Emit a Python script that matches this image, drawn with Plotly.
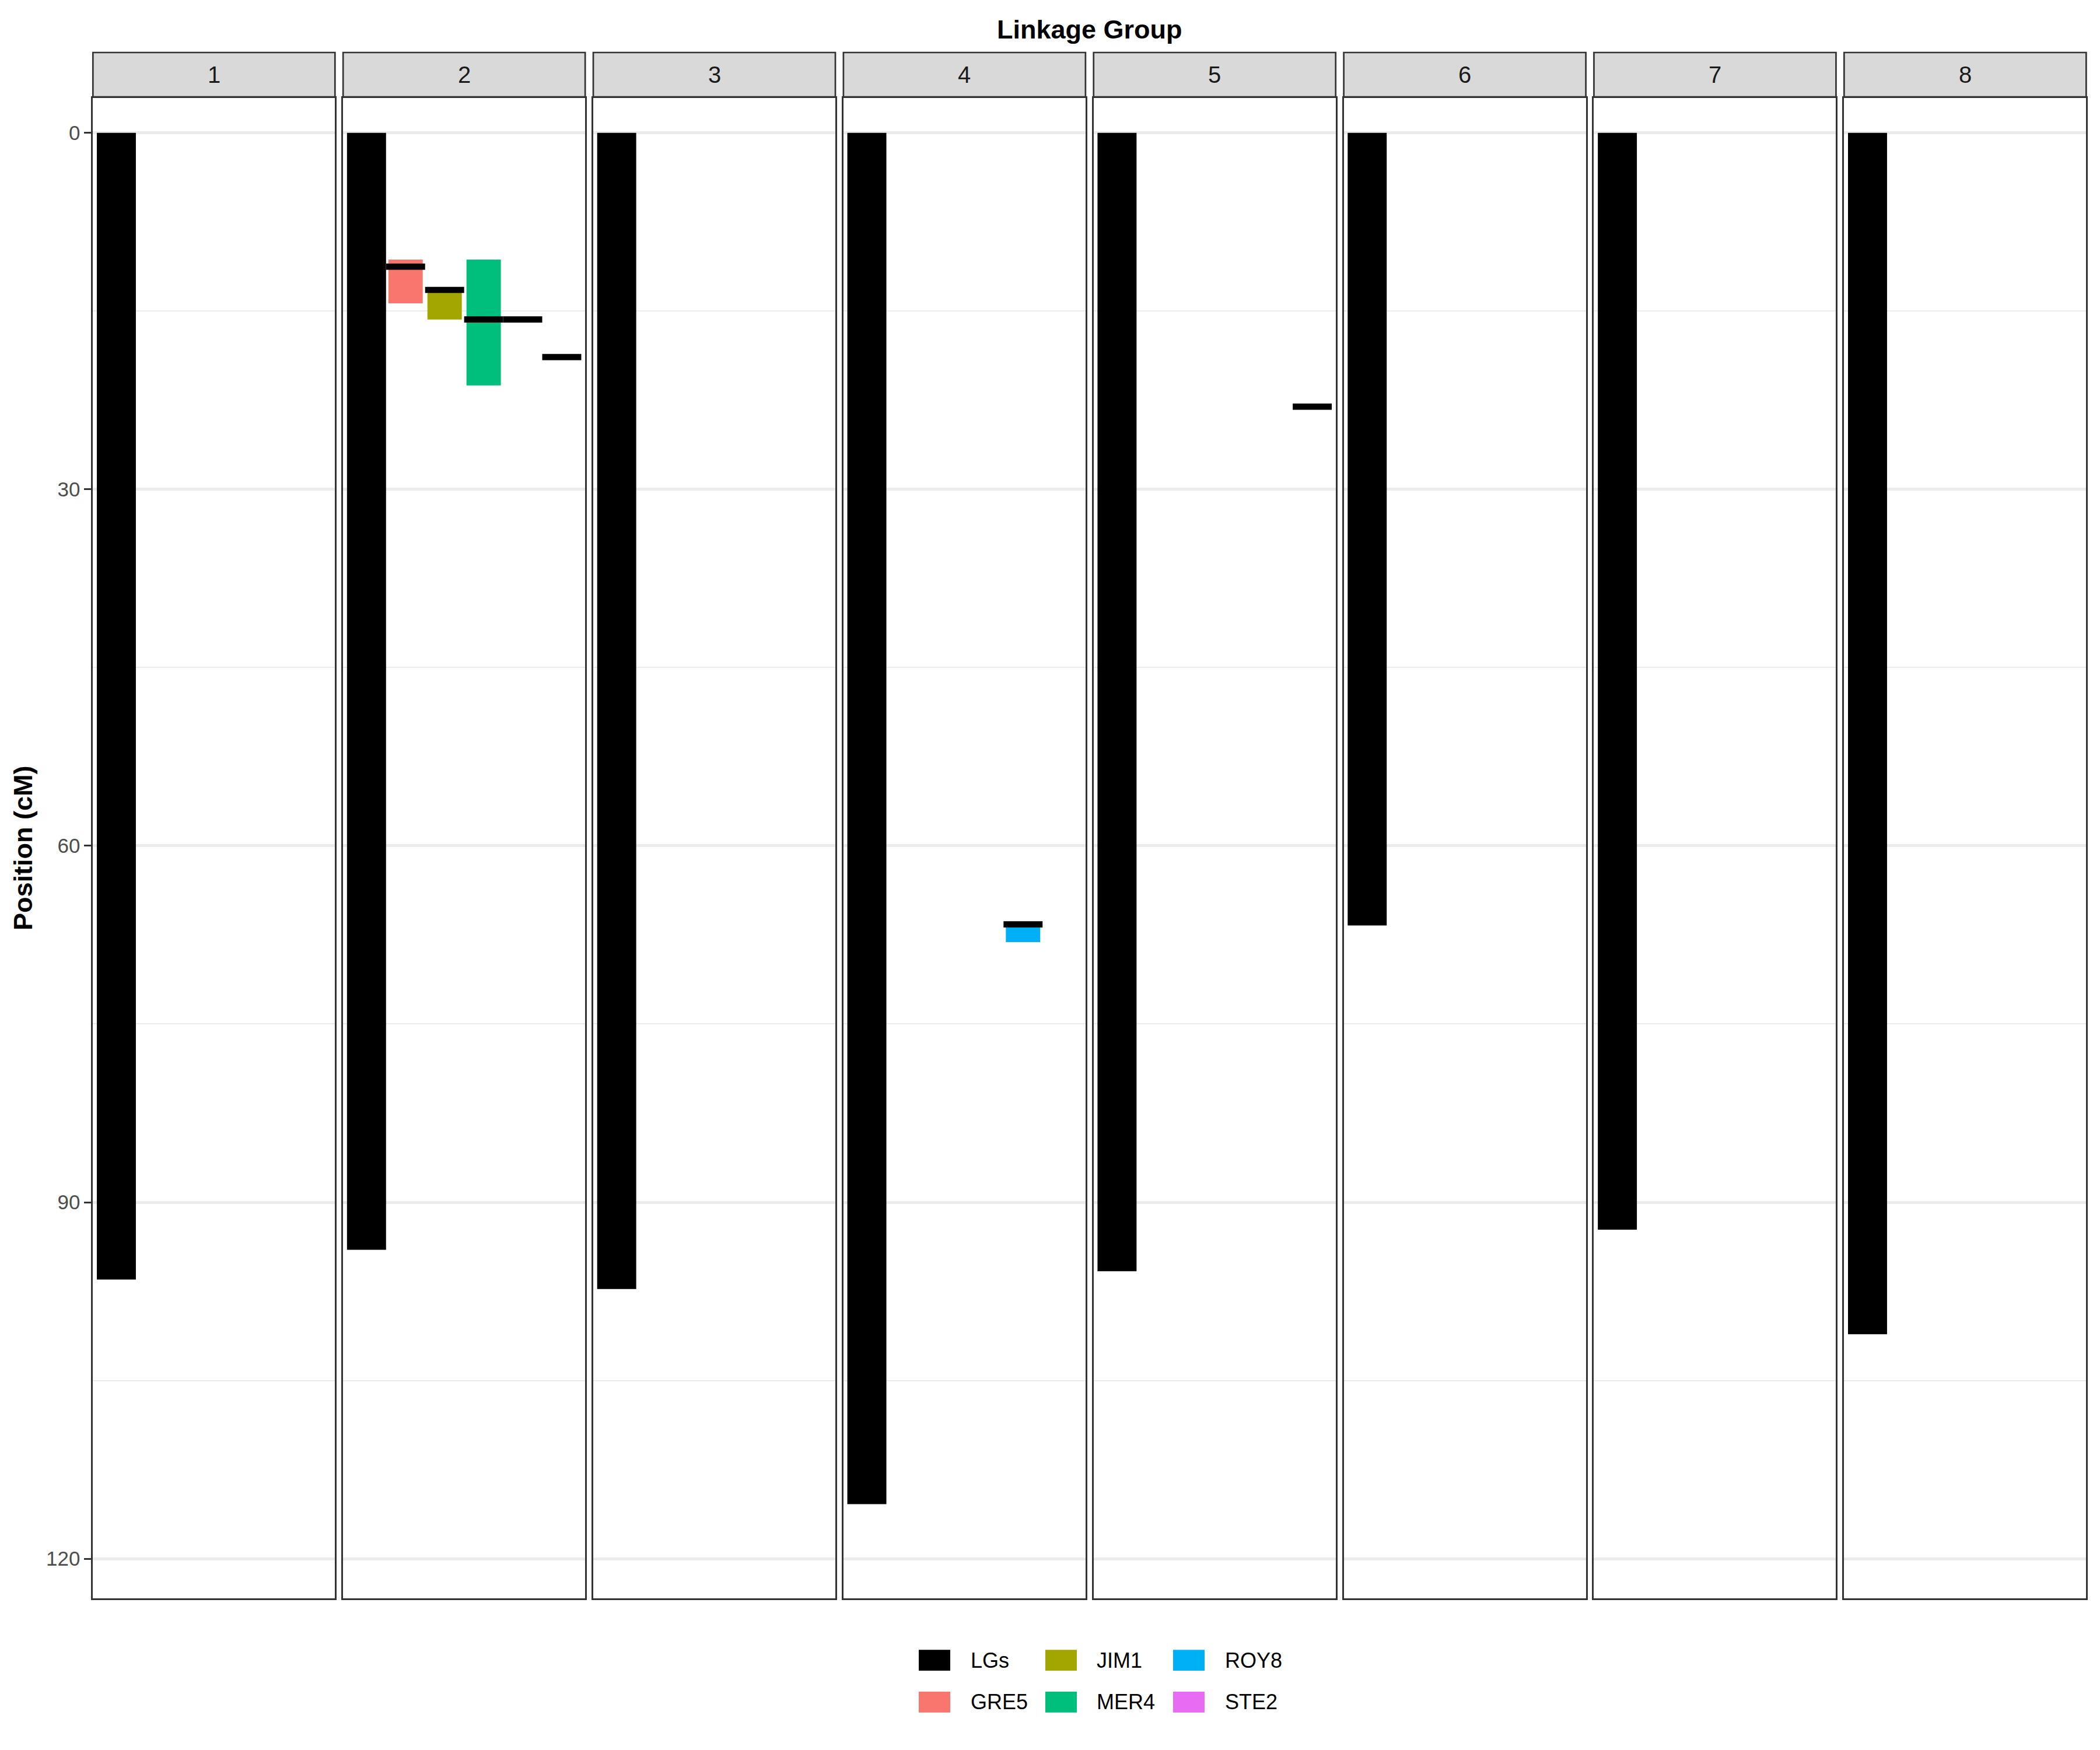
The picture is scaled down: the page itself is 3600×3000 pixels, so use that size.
import plotly.graph_objects as go

# ---------------- data ----------------
lg_names = ['1', '2', '3', '4', '5', '6', '7', '8']
lg_lengths = [96.5, 94.0, 97.3, 115.4, 95.8, 66.7, 92.3, 101.1]

categories = ['LGs', 'GRE5', 'JIM1', 'MER4', 'ROY8', 'STE2']
cat_colors = ['#000000', '#F8766D', '#A3A500', '#00BF7D', '#00B0F6', '#E76BF3']

# QTL intervals (trait, linkage group, start, end in cM)
qtl_trait = ['GRE5', 'JIM1', 'MER4', 'ROY8']
qtl_lg = [2, 2, 2, 4]
qtl_start = [10.67, 13.2, 10.67, 66.6]
qtl_end = [14.35, 15.71, 21.26, 68.10]

# QTL peaks (trait, linkage group, position in cM)
peak_trait = ['GRE5', 'JIM1', 'MER4', 'ROY8', 'STE2', 'ROY8', 'STE2']
peak_lg = [2, 2, 2, 2, 2, 4, 5]
peak_pos = [11.26, 13.22, 15.71, 15.71, 18.87, 66.61, 23.04]

y_tick_step = 30

# ---------------- geometry / style ----------------
W, H = 3600, 3000
FONT = 'Liberation Sans, Arial, Helvetica, sans-serif'
panel_left0 = 159.3
panel_w = 415.0
panel_step = 428.86
panel_top = 168.0
panel_bottom = 2740.0
strip_top = 90.0
strip_bottom = 166.0
border_col = '#333333'
border_w = 2.7

fig = go.Figure()

def ax_suffix(i):
    return '' if i == 1 else str(i)

# linkage group bars
for i, (name, length) in enumerate(zip(lg_names, lg_lengths), start=1):
    fig.add_trace(go.Bar(
        x=[categories.index('LGs') + 1], y=[length], base=[0], width=[1.0],
        marker=dict(color=cat_colors[0], line=dict(width=0)),
        xaxis='x' + ax_suffix(i), yaxis='y' + ax_suffix(i),
        showlegend=False, name='LGs', hoverinfo='skip'))

# QTL interval rectangles
for t, lg, s, e in zip(qtl_trait, qtl_lg, qtl_start, qtl_end):
    k = categories.index(t)
    fig.add_trace(go.Bar(
        x=[k + 1], y=[e - s], base=[s], width=[0.88],
        marker=dict(color=cat_colors[k], line=dict(width=0)),
        xaxis='x' + ax_suffix(lg), yaxis='y' + ax_suffix(lg),
        showlegend=False, name=t, hoverinfo='skip'))

# QTL peak segments
for t, lg, p in zip(peak_trait, peak_lg, peak_pos):
    k = categories.index(t)
    fig.add_trace(go.Scatter(
        x=[k + 0.5, k + 1.5], y=[p, p], mode='lines',
        line=dict(color='#000000', width=10.7),
        xaxis='x' + ax_suffix(lg), yaxis='y' + ax_suffix(lg),
        showlegend=False, name=t, hoverinfo='skip'))

layout = dict(
    width=W, height=H, autosize=False,
    margin=dict(l=0, r=0, t=0, b=0, pad=0),
    paper_bgcolor='white', plot_bgcolor='white',
    barmode='overlay', showlegend=False,
    font=dict(family=FONT, color='#000000'),
)

shapes = []
annotations = []
ydom = [1 - panel_bottom / H, 1 - panel_top / H]
for i in range(1, 9):
    L = panel_left0 + (i - 1) * panel_step
    xd = [L / W, (L + panel_w) / W]
    layout['xaxis' + ax_suffix(i)] = dict(
        domain=xd, range=[0.4, len(categories) + 0.6], anchor='y' + ax_suffix(i),
        showticklabels=False, ticks='', showgrid=False, zeroline=False,
        showline=True, mirror=True, linecolor=border_col, linewidth=border_w,
        fixedrange=True)
    yax = dict(
        domain=ydom, range=[123.33, -2.93], anchor='x' + ax_suffix(i),
        tickmode='linear', tick0=0, dtick=y_tick_step,
        showgrid=True, gridcolor='#EBEBEB', gridwidth=4.6,
        minor=dict(dtick=y_tick_step / 2, tick0=0, showgrid=True,
                   gridcolor='#EBEBEB', gridwidth=2.3, ticks=''),
        zeroline=False, showline=True, mirror=True,
        linecolor=border_col, linewidth=border_w, fixedrange=True)
    if i == 1:
        yax.update(ticks='outside', ticklen=12, tickwidth=border_w,
                   tickcolor=border_col, showticklabels=True,
                   tickfont=dict(family=FONT, size=35, color='#4D4D4D'))
    else:
        yax.update(matches='y', ticks='', showticklabels=False)
    layout['yaxis' + ax_suffix(i)] = yax

    # facet strip
    shapes.append(dict(type='rect', xref='paper', yref='paper',
                       x0=xd[0], x1=xd[1], y0=1 - strip_bottom / H, y1=1 - strip_top / H,
                       fillcolor='#D9D9D9', line=dict(color=border_col, width=border_w),
                       layer='above'))
    annotations.append(dict(text=lg_names[i - 1], xref='paper', yref='paper',
                            x=(xd[0] + xd[1]) / 2, y=1 - (strip_top + strip_bottom) / 2 / H,
                            xanchor='center', yanchor='middle', showarrow=False,
                            font=dict(family=FONT, size=40, color='#1A1A1A')))

# titles
plot_cx = (panel_left0 + 7 * panel_step + panel_w + panel_left0) / 2
annotations.append(dict(text='<b>Linkage Group</b>', xref='paper', yref='paper',
                        x=plot_cx / W, y=1 - 50 / H, xanchor='center', yanchor='middle',
                        showarrow=False, font=dict(family=FONT, size=45, color='#000000')))
annotations.append(dict(text='<b>Position (cM)</b>', xref='paper', yref='paper',
                        x=39 / W, y=1 - (panel_top + panel_bottom) / 2 / H,
                        xanchor='center', yanchor='middle', textangle=-90,
                        showarrow=False, font=dict(family=FONT, size=45, color='#000000')))

# legend (column-major, 2 rows x 3 columns)
key_x0 = [1575, 1792, 2011]
key_w = 54
key_rows = [(2828.3, 2864.0), (2900.0, 2935.7)]
label_x = [1661.6, 1878, 2098]
for k, (cat, col) in enumerate(zip(categories, cat_colors)):
    c, r = k // 2, k % 2
    y0, y1 = key_rows[r]
    shapes.append(dict(type='rect', xref='paper', yref='paper',
                       x0=key_x0[c] / W, x1=(key_x0[c] + key_w) / W,
                       y0=1 - y1 / H, y1=1 - y0 / H,
                       fillcolor=col, line=dict(width=0)))
    annotations.append(dict(text=cat, xref='paper', yref='paper',
                            x=label_x[c] / W, y=1 - (y0 + y1) / 2 / H,
                            xanchor='left', yanchor='middle', showarrow=False,
                            font=dict(family=FONT, size=36, color='#000000')))

layout['shapes'] = shapes
layout['annotations'] = annotations
fig.update_layout(**layout)

fig.write_html('out.html')
